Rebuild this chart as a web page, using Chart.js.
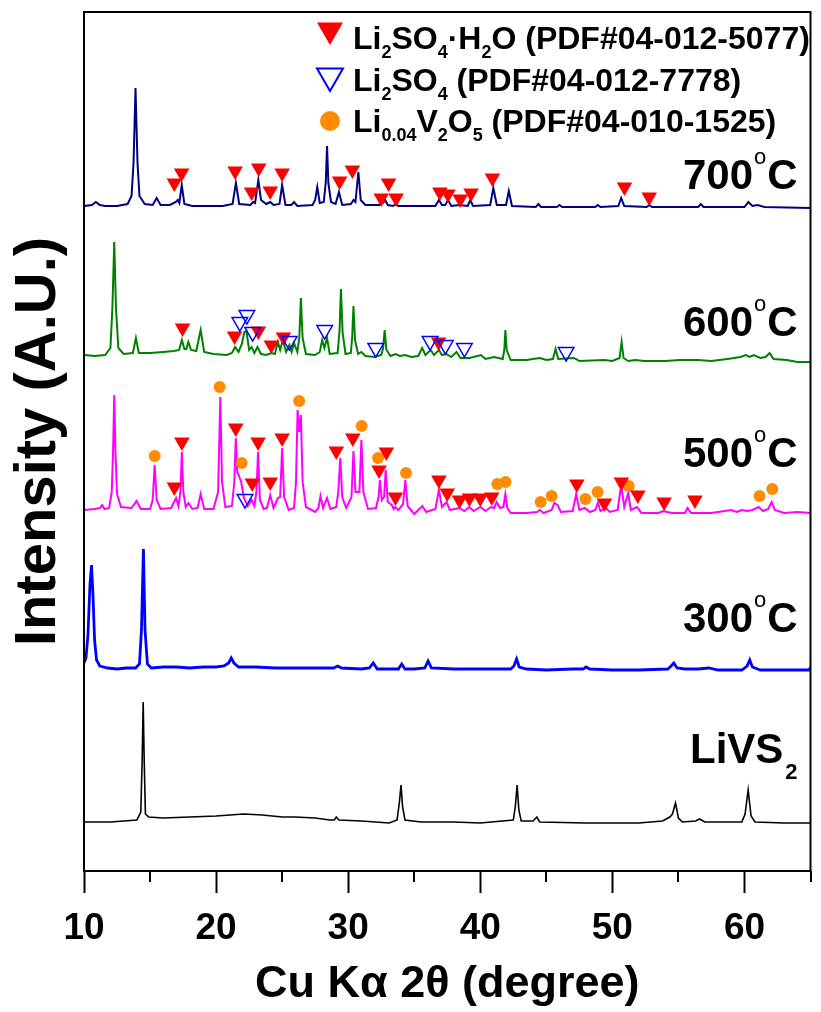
<!DOCTYPE html>
<html>
<head>
<meta charset="utf-8">
<script src="https://cdn.jsdelivr.net/npm/chart.js@4.4.1/dist/chart.umd.min.js"></script>
<style>
  html, body { margin: 0; padding: 0; background: #fff; }
  #wrap { position: relative; width: 821px; height: 1012px; }
</style>
</head>
<body>
<div id="wrap"><canvas id="xrd"></canvas></div>
<script>
// XRD of LiVS2 and of the products after heating at 300-700 C.
// Each pattern is [2theta, intensity above its own baseline]; offsets stack them.
const xTicks = [10, 20, 30, 40, 50, 60];
const minorTicks = [15, 25, 35, 45, 55, 65];

const patternLiVS2 = [
  [10.0, 0], [12.0, 0], [13.0, 1], [14.0, 2], [14.3, 10], [14.4, 60], [14.48, 120], [14.56, 60], [14.65, 8],
  [14.9, 5], [16.0, 4], [18.0, 5], [20.0, 6], [22.1, 8], [23.5, 7], [25.0, 5], [26.0, 5], [27.5, 4],
  [28.6, 2], [28.95, 2], [29.1, 5], [29.3, 2], [31.0, 1], [33.1, -1], [33.7, 2], [33.88, 20], [34.0, 37],
  [34.12, 15], [34.3, 2], [35.5, 0], [38.0, 0], [40.0, -1], [42.5, 2], [42.65, 15], [42.79, 37], [42.92, 12],
  [43.1, 1], [44.0, 1], [44.28, 5], [44.5, 0], [48.0, -1], [52.0, -1], [53.8, 1], [54.35, 5], [54.55, 8],
  [54.78, 19], [55.0, 4], [55.3, 0], [56.3, 1], [56.6, 3], [57.0, 0], [59.8, 0], [60.05, 8], [60.28, 32],
  [60.5, 6], [60.8, 0], [63.0, -1], [65.0, -1]
];

const pattern300 = [
  [10.0, 7], [10.15, 12], [10.3, 35], [10.45, 85], [10.57, 105], [10.68, 75], [10.8, 30], [10.95, 10],
  [11.2, 4], [11.8, 2], [12.5, 1], [13.2, 2], [13.9, 2], [14.2, 6], [14.35, 40], [14.5, 121], [14.62, 40],
  [14.8, 6], [15.1, 2], [16.0, 3], [17.0, 3], [18.0, 2], [19.0, 3], [20.0, 3], [20.6, 4], [20.95, 7],
  [21.15, 12], [21.35, 7], [21.7, 3], [23.0, 3], [24.5, 2], [26.0, 2], [27.5, 2], [28.9, 2], [29.2, 4],
  [29.5, 2], [31.0, 1], [31.6, 2], [31.9, 7], [32.2, 1], [33.0, 1], [33.8, 1], [34.05, 6], [34.3, 1],
  [35.0, 1], [35.8, 2], [36.05, 9], [36.3, 2], [38.0, 1], [40.0, 1], [42.3, 1], [42.55, 4], [42.75, 11],
  [42.95, 3], [43.5, 1], [45.0, 0], [47.0, 1], [47.8, 1], [48.0, 3], [48.3, 1], [50.0, 0], [52.0, 0],
  [54.2, 1], [54.45, 4], [54.65, 7], [54.9, 2], [55.5, 1], [56.5, 1], [57.3, 2], [58.0, 0], [59.8, 0],
  [60.2, 4], [60.4, 10], [60.6, 3], [61.2, 0], [63.0, 0], [64.9, 0], [65.0, 3]
];

const pattern500 = [
  [10.0, 2], [10.8, 3], [11.2, 4], [11.37, 7], [11.55, 3], [11.9, 4], [12.1, 20], [12.2, 60], [12.29, 117],
  [12.38, 60], [12.5, 18], [12.8, 5], [13.6, 4], [13.98, 11], [14.3, 3], [15.0, 3], [15.2, 12], [15.35, 47],
  [15.5, 12], [15.8, 3], [16.6, 4], [16.97, 14], [17.15, 6], [17.3, 20], [17.41, 60], [17.52, 20], [17.7, 5],
  [17.9, 9], [18.2, 3], [18.6, 4], [18.83, 18], [19.1, 3], [19.8, 3], [20.15, 20], [20.32, 115], [20.45, 30],
  [20.7, 5], [21.2, 6], [21.38, 30], [21.49, 74], [21.6, 40], [21.7, 37], [21.9, 30], [22.1, 14], [22.4, 6],
  [22.69, 12], [22.9, 6], [23.05, 20], [23.18, 60], [23.32, 12], [23.6, 3], [23.85, 4], [24.1, 17], [24.35, 4],
  [24.68, 14], [24.85, 15], [25.0, 64], [25.15, 15], [25.5, 2], [25.9, 4], [26.05, 30], [26.17, 102],
  [26.3, 80], [26.42, 97], [26.55, 30], [26.8, 5], [27.5, 0], [27.75, 4], [27.9, 16], [28.1, 4], [28.4, 14],
  [28.65, 3], [29.1, 5], [29.25, 20], [29.4, 54], [29.55, 15], [29.85, 4], [30.25, 15], [30.4, 61],
  [30.55, 20], [30.85, 20], [31.0, 72], [31.15, 20], [31.5, 3], [32.1, 4], [32.3, 15], [32.4, 32],
  [32.55, 12], [32.72, 15], [32.84, 42], [33.0, 10], [33.3, 7], [33.45, 3], [33.55, 5], [33.8, 2],
  [34.15, 8], [34.33, 32], [34.5, 6], [35.0, -2], [35.62, 6], [35.9, 0], [36.6, 3], [36.87, 22], [37.1, 5],
  [37.45, 10], [37.7, 2], [38.4, 4], [38.8, 1], [39.17, 5], [39.5, 1], [40.0, 5], [40.4, 1], [40.8, 5],
  [41.05, 4], [41.24, 10], [41.5, 4], [41.75, 5], [41.9, 18], [42.05, 4], [42.3, -1], [43.5, -1], [44.3, 0],
  [44.5, 2], [44.8, -1], [45.4, 2], [45.6, 9], [45.85, 7], [46.1, 0], [47.0, 1], [47.26, 18], [47.5, 2],
  [47.9, 4], [48.3, 0], [48.7, 2], [48.9, 9], [49.1, 1], [49.5, 4], [49.8, 0], [50.4, 2], [50.67, 27],
  [50.9, 5], [51.2, 19], [51.4, 2], [51.86, 5], [52.2, -1], [53.5, -1], [53.85, 1], [54.5, -1], [55.5, -1],
  [55.7, 4], [55.95, -1], [57.5, -1], [58.5, 1], [59.0, 2], [59.4, 0], [59.8, 2], [60.2, 1], [60.6, 2],
  [61.07, 5], [61.4, 1], [61.8, 3], [62.06, 10], [62.3, 2], [63.0, -1], [64.0, 0], [65.0, -1]
];

const pattern600 = [
  [10.0, 3], [10.8, 2], [11.6, 3], [12.0, 10], [12.15, 50], [12.29, 116], [12.42, 50], [12.6, 10], [13.0, 4],
  [13.7, 5], [13.93, 20], [14.15, 5], [15.0, 5], [16.0, 6], [16.8, 7], [17.2, 8], [17.41, 18], [17.6, 9],
  [17.75, 9], [17.9, 16], [18.1, 8], [18.5, 7], [18.83, 28], [19.1, 6], [19.8, 4], [20.8, 3], [21.2, 5],
  [21.44, 11], [21.7, 6], [21.95, 14], [22.14, 26], [22.3, 27], [22.5, 8], [22.69, 11], [22.9, 5], [23.13, 11],
  [23.4, 4], [23.8, 3], [24.2, 5], [24.45, 4], [24.68, 16], [24.85, 8], [25.05, 18], [25.3, 6], [25.55, 13],
  [25.72, 6], [25.9, 15], [26.15, 6], [26.3, 20], [26.42, 60], [26.55, 20], [26.8, 4], [27.5, 3], [27.85, 6],
  [28.03, 18], [28.2, 10], [28.4, 20], [28.6, 4], [29.2, 5], [29.35, 28], [29.45, 69], [29.58, 25], [29.8, 4],
  [30.2, 5], [30.3, 20], [30.4, 52], [30.52, 18], [30.75, 4], [31.0, 6], [31.3, 2], [32.0, 1], [32.5, 3],
  [32.65, 10], [32.76, 28], [32.9, 8], [33.2, 2], [33.6, 4], [33.9, 2], [34.3, 3], [34.8, 1], [35.3, 2],
  [35.6, 10], [35.85, 3], [36.24, 8], [36.5, 3], [36.87, 8], [37.1, 3], [37.44, 4], [37.8, 1], [38.2, 6],
  [38.5, 0], [39.2, 0], [40.05, 3], [40.4, -1], [41.05, 1], [41.7, -1], [41.82, 8], [41.9, 28], [42.0, 8],
  [42.3, -2], [43.5, -2], [44.5, 0], [45.0, -2], [45.5, -1], [45.7, 9], [45.9, -1], [47.1, 0], [47.5, -3],
  [49.4, -2], [50.0, -3], [50.55, 0], [50.7, 16], [50.85, 0], [51.2, -3], [51.74, -2], [52.4, -3], [54.0, -3],
  [55.1, -2], [55.7, -2], [56.5, -2], [57.5, -3], [58.7, -1], [59.2, 0], [59.7, 1], [60.1, 3], [60.4, 1],
  [60.7, 3], [61.2, 0], [61.6, 1], [61.9, 5], [62.2, -1], [63.2, -2], [64.0, -4], [65.0, -4]
];

const pattern700 = [
  [10.0, 2], [10.6, 3], [10.9, 6], [11.2, 3], [11.6, 2], [12.5, 2], [13.3, 4], [13.6, 12], [13.75, 45],
  [13.9, 120], [14.05, 45], [14.2, 12], [14.6, 4], [15.2, 3], [15.5, 10], [15.8, 3], [16.5, 3], [16.95, 6],
  [17.1, 8], [17.22, 5], [17.4, 23], [17.6, 4], [18.2, 2], [20.5, 2], [21.25, 4], [21.5, 25], [21.75, 4],
  [22.6, 3], [22.8, 6], [22.95, 5], [23.05, 14], [23.2, 28], [23.4, 8], [23.8, 4], [24.1, 6], [24.35, 3],
  [24.8, 4], [25.0, 23], [25.25, 3], [25.7, 3], [25.9, 6], [26.15, 2], [27.3, 3], [27.5, 8], [27.66, 21],
  [27.85, 5], [28.15, 6], [28.3, 25], [28.4, 62], [28.5, 25], [28.7, 6], [29.05, 4], [29.3, 16], [29.55, 3],
  [30.2, 4], [30.4, 8], [30.55, 6], [30.77, 36], [30.95, 8], [31.3, 3], [32.4, 3], [32.6, 10], [32.7, 6],
  [32.8, 8], [33.0, 3], [33.4, 2], [33.6, 4], [33.8, 2], [34.2, 2], [36.6, 2], [36.87, 8], [37.1, 3],
  [37.35, 3], [37.56, 8], [37.8, 2], [38.4, 3], [39.05, 2], [39.25, 8], [39.45, 2], [40.75, 3], [40.99, 20],
  [41.25, 3], [41.95, 3], [42.16, 17], [42.4, 2], [44.2, 1], [44.4, 4], [44.6, 1], [45.8, 1], [46.0, 3],
  [46.2, 1], [48.7, 1], [48.9, 3], [49.1, 1], [50.45, 2], [50.67, 10], [50.9, 2], [52.6, 1], [52.8, 3],
  [53.0, 1], [56.5, 1], [56.7, 4], [56.9, 1], [60.0, 1], [60.3, 6], [60.6, 2], [61.0, 3], [61.5, 1], [65.0, 0]
];

const patterns = [patternLiVS2, pattern300, pattern500, pattern600, pattern700];
const offsets = [49, 201, 359, 513, 663];
const lineColors = ['#000000', '#0000ff', '#ff00ff', '#008000', '#000080'];
const lineWidths = [1.6, 2.8, 2, 2, 2];

// phase markers: [2theta, height above the pattern baseline]
const h2oMarks500 = [
  [16.84, 25], [17.41, 70], [21.49, 84], [22.74, 29], [23.18, 70], [24.1, 30], [25.0, 74], [29.1, 61],
  [30.35, 74], [32.34, 42], [32.89, 60], [33.58, 15], [36.87, 32], [37.5, 19], [38.43, 12], [39.18, 14],
  [40.0, 14], [40.87, 15], [47.31, 28], [49.4, 9], [50.68, 30], [51.93, 17], [53.92, 10], [56.25, 12]
];
const h2oMarks600 = [[17.46, 30], [21.4, 22], [23.2, 27], [24.18, 13], [25.1, 21], [36.85, 16]];
const h2oMarks700 = [
  [16.84, 25], [17.39, 35], [21.44, 37], [22.69, 16], [23.23, 40], [24.1, 17], [25.0, 35], [29.35, 27],
  [30.32, 38], [32.5, 10], [33.06, 25], [33.63, 10], [36.94, 16], [37.56, 14], [38.48, 9], [39.3, 15],
  [40.92, 30], [50.92, 21], [52.79, 11]
];
const sulfateMarks500 = [[22.19, 13]];
const sulfateMarks600 = [
  [21.8, 36], [22.33, 43], [22.77, 26], [25.54, 17], [28.22, 28], [32.09, 10], [36.2, 17], [37.36, 13],
  [38.8, 10], [46.5, 6]
];
const vanadateMarks500 = [
  [15.35, 56], [20.27, 125], [21.94, 49], [26.29, 111], [31.02, 86], [32.26, 54], [34.38, 39], [41.29, 28],
  [41.91, 30], [44.57, 10], [45.4, 16], [47.96, 13], [48.88, 20], [51.24, 26], [61.14, 16], [62.11, 23]
];

const sampleLabels = ['LiVS', '300', '500', '600', '700'];

const FONT = '"Liberation Sans", Arial, Helvetica, sans-serif';
const RED = '#ff0000', BLUE = '#0000ff', ORANGE = '#ff8c00';

function stack(points, offset) {
  return points.map(([t, v]) => ({ x: t, y: v + offset }));
}

const datasets = [];

// markers go first so they are drawn over the curves
function addMarks(points, offset, style) {
  datasets.push(Object.assign({
    data: stack(points, offset),
    showLine: false,
    order: 0
  }, style));
}
const h2oStyle = { pointStyle: 'triangle', pointRotation: 180, pointRadius: 9,
  pointBackgroundColor: RED, pointBorderColor: RED, pointBorderWidth: 0 };
const sulfateStyle = { pointStyle: 'triangle', pointRotation: 180, pointRadius: 9,
  pointBackgroundColor: 'rgba(0,0,0,0)', pointBorderColor: BLUE, pointBorderWidth: 1.5 };
const vanadateStyle = { pointStyle: 'circle', pointRadius: 6,
  pointBackgroundColor: ORANGE, pointBorderColor: ORANGE, pointBorderWidth: 0 };

addMarks(sulfateMarks600, offsets[3], sulfateStyle);
addMarks(sulfateMarks500, offsets[2], sulfateStyle);
addMarks(h2oMarks700, offsets[4], h2oStyle);
addMarks(h2oMarks600, offsets[3], h2oStyle);
addMarks(h2oMarks500, offsets[2], h2oStyle);
addMarks(vanadateMarks500, offsets[2], vanadateStyle);

patterns.forEach((p, i) => {
  datasets.push({
    data: stack(p, offsets[i]),
    showLine: true,
    borderColor: lineColors[i],
    borderWidth: lineWidths[i],
    pointRadius: 0,
    tension: 0,
    order: 1
  });
});

// text runs: [text, isSubscript]
const legendRows = [
  { style: h2oStyle, r: 15, runs: [['Li'], ['2', 1], ['SO'], ['4', 1], ['\u00b7H'], ['2', 1], ['O (PDF#04-012-5077)']] },
  { style: sulfateStyle, r: 15, runs: [['Li'], ['2', 1], ['SO'], ['4', 1], [' (PDF#04-012-7778)']] },
  { style: vanadateStyle, r: 10, runs: [['Li'], ['0.04', 1], ['V'], ['2', 1], ['O'], ['5', 1], [' (PDF#04-010-1525)']] }
];

function drawRuns(ctx, runs, x, y, size, subSize, subDrop) {
  runs.forEach(([txt, sub]) => {
    ctx.font = 'bold ' + (sub ? subSize : size) + 'px ' + FONT;
    ctx.fillText(txt, x, sub ? y + subDrop : y);
    x += ctx.measureText(txt).width;
  });
}

const decorations = {
  id: 'decorations',
  afterDraw(chart) {
    const { ctx, chartArea: a, scales: { x: xs, y: ys } } = chart;
    ctx.save();
    ctx.strokeStyle = '#000';
    ctx.lineWidth = 2;
    ctx.strokeRect(a.left, a.top, a.right - a.left, a.bottom - a.top);

    // minor ticks
    ctx.beginPath();
    minorTicks.forEach(v => {
      const px = Math.round(xs.getPixelForValue(v));
      ctx.moveTo(px, a.bottom);
      ctx.lineTo(px, a.bottom + 11);
    });
    ctx.stroke();

    // legend
    ctx.fillStyle = '#000';
    ctx.textBaseline = 'alphabetic';
    ctx.textAlign = 'left';
    const rowBase = [49, 91, 132];
    const markY = [30, 76, 121];
    legendRows.forEach((row, i) => {
      ctx.save();
      ctx.fillStyle = row.style.pointBackgroundColor;
      ctx.strokeStyle = row.style.pointBorderColor;
      ctx.lineWidth = 2;
      Chart.helpers.drawPoint(ctx, {
        pointStyle: row.style.pointStyle,
        rotation: row.style.pointRotation || 0,
        radius: row.r,
        borderWidth: row.style.pointBorderWidth ? 2 : 0
      }, 330, markY[i]);
      ctx.restore();
      drawRuns(ctx, row.runs, 353, rowBase[i], 32, 18, 9);
    });

    // sample labels on the right
    sampleLabels.forEach((lab, i) => {
      const base = ys.getPixelForValue(offsets[i]);
      const lift = [59, 38, 45, 22, 19][i];
      const y = base - lift;
      let x = i === 0 ? 690 : 683;
      ctx.font = 'bold 42px ' + FONT;
      ctx.fillText(lab, x, y);
      x += ctx.measureText(lab).width;
      if (i === 0) {
        ctx.font = 'bold 22px ' + FONT;
        ctx.fillText('2', x + 2, y + 16);
      } else {
        ctx.font = '22px ' + FONT;
        ctx.fillText('o', x + 1, y - 25);
        x += ctx.measureText('o').width + 2;
        ctx.font = 'bold 42px ' + FONT;
        ctx.fillText('C', x, y);
      }
    });
    ctx.restore();
  }
};

new Chart(document.getElementById('xrd'), {
  type: 'scatter',
  data: { datasets },
  options: {
    responsive: true,
    maintainAspectRatio: false,
    animation: false,
    layout: { padding: { top: 12, right: 1, left: 0, bottom: 0 } },
    plugins: { legend: { display: false }, tooltip: { enabled: false } },
    scales: {
      x: {
        type: 'linear',
        min: 10,
        max: 65,
        afterFit: s => { s.height = 141; },
        afterBuildTicks: s => { s.ticks = xTicks.map(v => ({ value: v })); },
        ticks: { color: '#000', font: { family: FONT, size: 37, weight: 'bold' }, padding: 14, maxRotation: 0 },
        grid: { drawOnChartArea: false, tickLength: 22, tickWidth: 2, tickColor: '#000' },
        border: { color: '#000', width: 2 },
        title: {
          display: true, text: 'Cu K\u03b1 2\u03b8 (degree)', color: '#000',
          font: { family: FONT, size: 45, weight: 'bold' }, padding: 0
        }
      },
      y: {
        min: 0,
        max: 859,
        afterFit: s => { s.width = 84; },
        ticks: { display: false },
        grid: { display: false },
        border: { color: '#000', width: 2 },
        title: {
          display: true, text: 'Intensity (A.U.)', color: '#000',
          font: { family: FONT, size: 58, weight: 'bold' }, padding: { top: 4 }
        }
      }
    }
  },
  plugins: [decorations]
});
</script>
</body>
</html>
